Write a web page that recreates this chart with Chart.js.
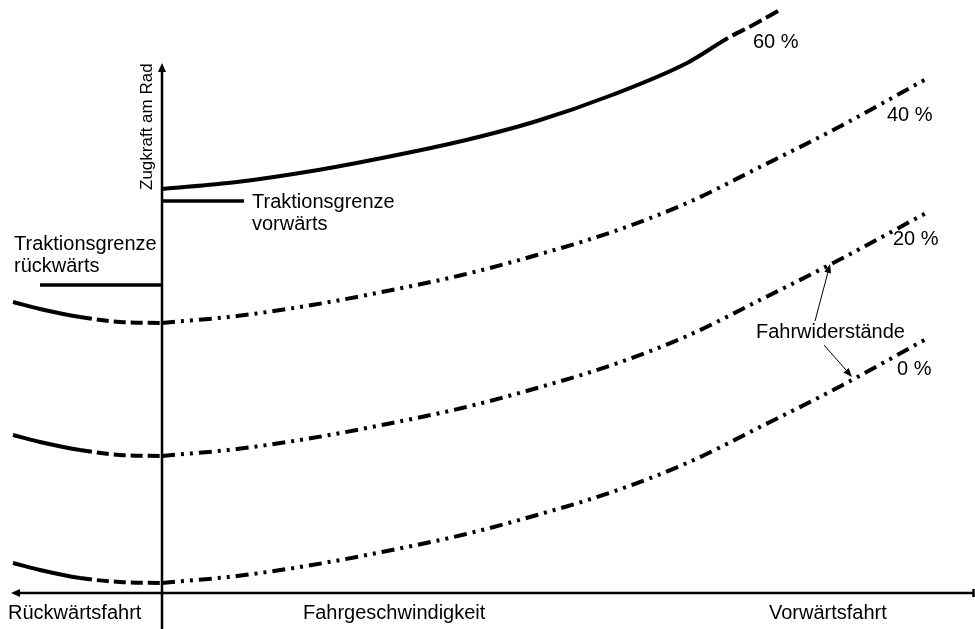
<!DOCTYPE html>
<html>
<head>
<meta charset="utf-8">
<script src="https://cdn.jsdelivr.net/npm/chart.js@4"></script>
<style>
  body { margin: 0; background: white; }
  canvas { display: block; }
</style>
</head>
<body>
<canvas id="zugkraftChart" width="975" height="629"></canvas>
<script>
// speeds (arbitrary units, 0 = standstill, negative = reverse)
const fwdSpeed = [0, 75, 150, 225, 300, 375, 450, 525, 600, 675, 766];
const revSpeed = [-149, -122, -82, -42, 0];
const speed60 = [0, 75, 150, 225, 300, 375, 450, 525, 566, 591, 616];

// tractive effort at the wheel for each gradient
const grade60 = [404, 411, 422, 436, 452, 472, 498, 530, 555, 568, 582];
const grade40Fwd = [270, 277, 288, 302, 318, 338, 361, 390, 427, 465, 515];
const grade20Fwd = [137, 144, 155, 169, 185, 205, 228, 257, 294, 332, 381];
const grade0Fwd = [10, 17, 28, 42, 58, 78, 101, 130, 167, 205, 255];
const grade40Rev = [291, 284, 276, 271, 270];
const grade20Rev = [158, 151, 143, 138, 137];
const grade0Rev = [30, 23, 15, 11, 10];

// traction limits
const tractionFwdSpeed = [0, 82];
const tractionFwd = 392;
const tractionRevSpeed = [-122, 0];
const tractionRev = 308;

const DASH_DOT_DOT = [13, 6, 3, 6, 3, 6];
const DASHED = [12, 5];

function pts(xs, ys) {
    return xs.map((v, i) => ({ x: v, y: Array.isArray(ys) ? ys[i] : ys }));
}

function curve(data, dash, width) {
    return {
        data: data,
        borderColor: '#000',
        borderWidth: width || 4,
        borderDash: dash || [],
        pointRadius: 0,
        cubicInterpolationMode: 'monotone',
        fill: false
    };
}

// reverse branch: solid at the far end, dashed towards standstill
function reverseCurve(values) {
    const ds = curve(pts(revSpeed, values));
    ds.segment = {
        borderDash: c => c.p0.parsed.x >= -82 ? DASHED : undefined
    };
    return ds;
}

function arrowHead(ctx, fx, fy, tx, ty, len, half) {
    const a = Math.atan2(ty - fy, tx - fx);
    ctx.beginPath();
    ctx.moveTo(tx, ty);
    ctx.lineTo(tx - len * Math.cos(a) + half * Math.sin(a), ty - len * Math.sin(a) - half * Math.cos(a));
    ctx.lineTo(tx - len * Math.cos(a) - half * Math.sin(a), ty - len * Math.sin(a) + half * Math.cos(a));
    ctx.closePath();
    ctx.fill();
}

// axes, arrows and all the labels
const annotate = {
    id: 'annotate',
    beforeDatasetsDraw(chart) {
        const c = chart.ctx;
        const x0 = chart.scales.x.getPixelForValue(0);
        const y0 = chart.scales.y.getPixelForValue(0);
        c.save();
        c.strokeStyle = '#000';
        c.fillStyle = '#000';
        c.lineWidth = 2.5;
        c.beginPath();
        c.moveTo(x0, chart.height);
        c.lineTo(x0, 70);
        c.moveTo(18, y0);
        c.lineTo(974, y0);
        c.moveTo(973.5, y0 - 4);
        c.lineTo(973.5, y0 + 4);
        c.stroke();
        arrowHead(c, x0, 100, x0, 63, 9, 4);
        arrowHead(c, 100, y0, 11, y0, 9, 4);
        c.restore();
    },
    afterDatasetsDraw(chart) {
        const c = chart.ctx;
        c.save();
        c.fillStyle = '#000';
        c.strokeStyle = '#000';
        c.font = '20px "Liberation Sans", Arial, sans-serif';
        c.textBaseline = 'alphabetic';
        c.fillText('Traktionsgrenze', 252, 208);
        c.fillText('vorwärts', 252, 230);
        c.fillText('Traktionsgrenze', 14, 250);
        c.fillText('rückwärts', 14, 272);
        c.fillText('60 %', 753, 48);
        c.fillText('40 %', 887, 121);
        c.fillText('20 %', 893, 245);
        c.fillText('0 %', 897, 375);
        c.fillText('Fahrwiderstände', 756, 338);
        c.fillText('Rückwärtsfahrt', 8, 619);
        c.fillText('Fahrgeschwindigkeit', 303, 619);
        c.fillText('Vorwärtsfahrt', 769, 619);

        // pointers from "Fahrwiderstände"
        c.lineWidth = 1;
        c.beginPath();
        c.moveTo(815, 321);
        c.lineTo(828, 272);
        c.moveTo(824, 345);
        c.lineTo(846, 370);
        c.stroke();
        arrowHead(c, 815, 321, 830, 264, 9, 3.5);
        arrowHead(c, 824, 345, 852, 377, 9, 3.5);

        c.font = '17px "Liberation Sans", Arial, sans-serif';
        c.translate(152, 190);
        c.rotate(-Math.PI / 2);
        c.fillText('Zugkraft am Rad', 0, 0);
        c.restore();
    }
};

document.addEventListener('DOMContentLoaded', function () {
    const ctx = document.getElementById('zugkraftChart').getContext('2d');

    // 60 %: solid, then dashed where it leaves the diagram
    const line60 = curve(pts(speed60, grade60));
    line60.segment = {
        borderDash: c => c.p0.parsed.x >= 566 ? [14, 5] : undefined,
        borderDashOffset: c => c.p0.parsed.x >= 566 ? 14 : undefined
    };

    new Chart(ctx, {
        type: 'line',
        data: {
            datasets: [
                line60,
                curve(pts(fwdSpeed, grade40Fwd), DASH_DOT_DOT),
                curve(pts(fwdSpeed, grade20Fwd), DASH_DOT_DOT),
                curve(pts(fwdSpeed, grade0Fwd), DASH_DOT_DOT),
                reverseCurve(grade40Rev),
                reverseCurve(grade20Rev),
                reverseCurve(grade0Rev),
                curve(pts(tractionFwdSpeed, tractionFwd), [], 3.5),
                curve(pts(tractionRevSpeed, tractionRev), [], 3.5)
            ]
        },
        options: {
            responsive: false,
            animation: false,
            devicePixelRatio: 1,
            layout: { padding: 0 },
            scales: {
                x: { type: 'linear', min: -162, max: 813, display: false },
                y: { type: 'linear', min: -36, max: 593, display: false }
            },
            plugins: {
                legend: { display: false },
                tooltip: { enabled: false }
            }
        },
        plugins: [annotate]
    });
});
</script>
</body>
</html>
